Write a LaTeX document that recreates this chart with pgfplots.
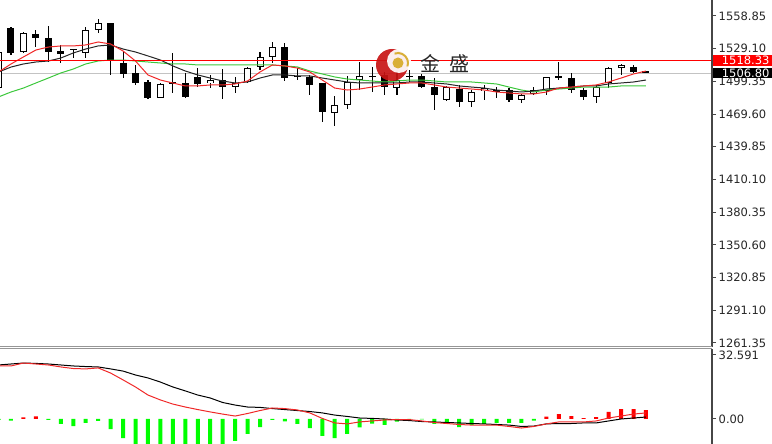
\documentclass[border=0pt]{standalone}
\usepackage{pgfplots}
\pgfplotsset{compat=1.18}
\usepackage{pgfplotstable}
\usepackage{fontspec}
\setmainfont{DejaVu Sans}
\newfontfamily\cjk{Noto Sans CJK SC}

\definecolor{maRed}{RGB}{240,40,40}
\definecolor{maGreen}{RGB}{60,200,60}
\definecolor{histGreen}{RGB}{0,255,0}
\definecolor{histRed}{RGB}{255,0,0}
\definecolor{axisGray}{RGB}{70,70,70}
\definecolor{sepGray}{RGB}{150,150,150}
\definecolor{bidGray}{RGB}{195,195,195}
\definecolor{logoRed}{RGB}{200,20,20}
\definecolor{logoGold}{RGB}{215,170,40}

\pgfplotstableread{
i O H L C
0 1493.3 1527.9 1491.0 1526.1
1 1547.9 1548.8 1523.4 1525.2
2 1526.1 1544.3 1525.2 1543.4
3 1542.5 1546.1 1530.6 1538.8
4 1538.8 1549.8 1517.0 1526.1
5 1527.0 1532.5 1516.1 1524.3
6 1528.0 1528.8 1520.6 1528.8
7 1525.2 1548.8 1520.6 1546.1
8 1546.1 1556.1 1543.4 1552.5
9 1552.5 1552.5 1505.2 1518.8
10 1516.1 1526.1 1502.4 1506.1
11 1507.0 1514.3 1496.1 1497.9
12 1498.8 1500.6 1483.3 1484.2
13 1484.2 1497.5 1483.8 1497.0
14 1498.3 1525.2 1488.8 1497.9
15 1497.9 1507.0 1484.2 1485.1
16 1503.4 1511.5 1494.2 1497.0
17 1497.9 1505.2 1493.3 1500.6
18 1500.6 1510.6 1483.3 1494.2
19 1494.2 1503.4 1488.8 1497.9
20 1498.8 1512.4 1497.9 1511.5
21 1512.4 1526.1 1509.7 1521.5
22 1521.5 1535.2 1516.1 1530.6
23 1530.6 1534.3 1499.7 1502.4
24 1504.3 1511.5 1500.6 1504.0
25 1503.4 1505.2 1487.0 1496.1
26 1497.9 1497.9 1462.4 1471.5
27 1470.6 1486.0 1458.7 1477.9
28 1477.9 1504.3 1474.2 1498.8
29 1500.6 1517.0 1491.5 1504.3
30 1503.4 1512.4 1489.7 1504.3
31 1505.2 1507.9 1487.0 1494.2
32 1493.3 1509.7 1487.0 1500.6
33 1504.0 1509.7 1498.8 1504.3
34 1504.3 1506.1 1493.3 1494.2
35 1494.2 1502.4 1473.3 1487.0
36 1482.4 1495.2 1481.5 1494.2
37 1492.4 1496.1 1476.0 1480.6
38 1480.6 1491.5 1476.0 1489.7
39 1490.6 1496.1 1482.4 1493.3
40 1490.6 1494.2 1484.2 1490.8
41 1491.5 1493.3 1480.6 1482.4
42 1482.4 1487.9 1479.7 1487.0
43 1487.9 1494.2 1487.0 1491.5
44 1490.6 1503.4 1487.0 1503.4
45 1503.6 1517.0 1500.6 1503.4
46 1502.4 1507.0 1488.8 1491.5
47 1491.5 1493.3 1482.4 1485.1
48 1485.1 1496.1 1479.7 1494.2
49 1497.9 1512.4 1493.3 1511.5
50 1511.5 1515.2 1505.2 1514.3
51 1512.4 1514.3 1507.0 1507.9
52 1508.5 1509.0 1506.8 1506.8
}\candles

\pgfplotstableread{
i fast mid slow
0 1507.9 1507.9 1485.2
1 1515.2 1512.4 1489.7
2 1521.6 1515.2 1493.3
3 1527.9 1517.0 1497.9
4 1530.6 1517.9 1502.4
5 1531.6 1520.6 1507.0
6 1531.6 1525.2 1510.6
7 1532.5 1528.8 1515.2
8 1535.2 1531.6 1517.9
9 1533.4 1532.5 1518.8
10 1527.0 1528.8 1518.8
11 1517.9 1526.1 1517.9
12 1505.2 1522.5 1517.0
13 1500.6 1518.8 1516.1
14 1497.9 1513.4 1515.2
15 1495.2 1508.8 1515.2
16 1495.2 1505.2 1514.3
17 1496.1 1502.4 1514.3
18 1496.1 1499.7 1514.3
19 1497.0 1497.9 1514.3
20 1499.7 1498.8 1514.3
21 1507.9 1502.4 1514.3
22 1514.3 1505.2 1514.3
23 1513.4 1505.2 1513.4
24 1511.5 1504.3 1512.5
25 1507.9 1504.3 1508.8
26 1500.6 1502.4 1506.1
27 1493.3 1500.6 1503.4
28 1491.5 1498.8 1501.5
29 1492.4 1497.9 1500.6
30 1494.2 1497.9 1499.7
31 1496.1 1497.9 1498.8
32 1497.0 1497.9 1499.7
33 1497.9 1498.8 1500.6
34 1497.9 1498.8 1500.6
35 1496.1 1497.9 1499.7
36 1494.2 1497.0 1498.8
37 1493.3 1495.2 1498.8
38 1492.4 1494.2 1498.8
39 1491.5 1493.3 1497.9
40 1489.7 1491.5 1497.0
41 1488.8 1490.6 1494.2
42 1487.9 1489.7 1491.5
43 1487.9 1490.6 1489.7
44 1489.7 1492.4 1491.5
45 1493.3 1493.3 1492.4
46 1494.2 1494.2 1493.3
47 1495.2 1495.2 1494.2
48 1496.1 1495.2 1494.2
49 1498.8 1497.0 1494.2
50 1502.4 1497.9 1495.2
51 1506.1 1498.8 1495.2
52 1508.8 1500.6 1495.2
}\mas

\pgfplotstableread{
i sig macd
0 27.5 27.0
1 28.0 27.0
2 28.5 28.5
3 28.3 28.0
4 28.0 27.5
5 27.5 26.5
6 27.0 25.7
7 26.7 25.5
8 26.5 26.0
9 25.5 23.4
10 24.4 19.9
11 22.4 16.3
12 20.9 12.2
13 18.8 9.7
14 16.3 7.6
15 14.3 6.1
16 12.2 4.8
17 10.7 3.6
18 8.4 2.5
19 7.1 1.5
20 6.1 2.8
21 5.9 4.3
22 5.3 5.6
23 4.8 5.3
24 4.3 4.6
25 3.8 3.1
26 3.1 0.3
27 2.0 -2.0
28 1.3 -2.5
29 0.5 -1.5
30 0.3 -1.0
31 0.0 -0.5
32 -0.5 -0.3
33 -0.8 -0.3
34 -1.3 -1.0
35 -1.5 -1.8
36 -1.8 -2.3
37 -2.0 -2.8
38 -2.3 -3.1
39 -2.5 -3.1
40 -2.8 -3.1
41 -3.1 -3.8
42 -3.8 -4.6
43 -3.6 -3.8
44 -2.5 -2.5
45 -2.3 -1.5
46 -2.3 -1.5
47 -2.0 -1.5
48 -2.0 -1.0
49 -1.0 0.5
50 0.0 1.5
51 0.5 2.5
52 1.0 3.1
}\macdlines

\begin{document}
\begin{tikzpicture}
\useasboundingbox (0,0) rectangle (772pt,444pt);
\pgfplotsset{
  panel/.style={
    scale only axis, width=712pt,
    xmin=0.1165, xmax=57.305,
    axis line style={draw=none},
    xtick=\empty,
    ytick pos=right, yticklabel pos=right,
    tick align=outside, major tick length=4pt,
    tick style={draw=axisGray, line width=1pt},
    yticklabel style={font=\fontsize{11.5}{13}\selectfont, text=black!85, inner xsep=2.5pt},
    clip mode=individual,
  }
}
% ---------------- main price panel ----------------
\begin{axis}[panel, at={(0pt,444pt)}, anchor=north west, height=347pt,
  ymin=1257.68, ymax=1573.41,
  ytick={1261.35,1291.1,1320.85,1350.6,1380.35,1410.1,1439.85,1469.6,1499.35,1529.1,1558.85},
  yticklabels={1261.35,1291.10,1320.85,1350.60,1380.35,1410.10,1439.85,1469.60,1499.35,1529.10,1558.85}]
  \addplot[bidGray, line width=1.4pt, forget plot] coordinates {(0.1165,1506.80) (57.305,1506.80)};
  \addplot[forget plot, draw=none, mark=none,
    error bars/.cd, y dir=both, y explicit, error mark=none,
    error bar style={draw=black, line width=1.1pt, solid}]
    table[x=i, y expr={(\thisrow{H}+\thisrow{L})/2}, y error expr={(\thisrow{H}-\thisrow{L})/2}] {\candles};
  \addplot[forget plot, draw=none, mark=none,
    error bars/.cd, y dir=both, y explicit, error mark=none,
    error bar style={draw=black, line width=7pt, solid}]
    table[x=i, y expr={(\thisrow{O}+\thisrow{C})/2}, y error expr={max(abs(\thisrow{C}-\thisrow{O}),1)/2}] {\candles};
  \addplot[forget plot, draw=none, mark=none,
    error bars/.cd, y dir=both, y explicit, error mark=none,
    error bar style={draw=white, line width=5pt, solid}]
    table[x=i, y expr={(\thisrow{O}+\thisrow{C})/2}, y error expr={max(\thisrow{C}-\thisrow{O}-2,0)/2}] {\candles};
  \addplot[maGreen, line width=1pt] table[x=i, y=slow] {\mas};
  \addplot[black!85, line width=1pt] table[x=i, y=mid] {\mas};
  \addplot[maRed, line width=1pt] table[x=i, y=fast] {\mas};
  \addplot[red, line width=1.8pt, forget plot] coordinates {(0.1165,1518.33) (57.305,1518.33)};
  \draw[axisGray, line width=1.3pt] (rel axis cs:1,0) -- (rel axis cs:1,1);
  \coordinate (pR) at (axis cs:57.305,1518.33);
  \coordinate (pB) at (axis cs:57.305,1506.80);
\end{axis}
% ---------------- MACD panel ----------------
\begin{axis}[panel, at={(0pt,95pt)}, anchor=north west, height=95pt,
  ymin=-12.73, ymax=35.64,
  ytick={0,32.591}, yticklabels={0.00,32.591}]
  \addplot[ybar, bar width=4pt, bar shift=0pt, fill=histGreen, draw=none, forget plot] coordinates {
    (0,-0.5)(1,-0.8)(4,-0.5)(5,-2.5)(6,-3.6)(7,-2.0)(8,-1.0)(9,-5.1)(10,-9.7)
    (11,-13)(12,-13)(13,-13)(14,-13)(15,-13)(16,-13)(17,-13)(18,-13)(19,-11.2)
    (20,-7.6)(21,-4.1)(22,-0.4)(23,-1.2)(24,-2.5)(25,-4.6)(26,-8.6)(27,-9.7)
    (28,-7.6)(29,-4.3)(30,-2.3)(31,-3.0)(32,-1.3)(33,-0.2)(34,-0.2)(35,-2.5)
    (36,-2.5)(37,-4.1)(38,-3.0)(39,-2.5)(40,-2.0)(41,-2.0)(42,-2.0)(43,-0.8)};
  \addplot[ybar, bar width=4pt, bar shift=0pt, fill=histRed, draw=none, forget plot] coordinates {
    (2,0.8)(3,1.3)(44,1.2)(45,2.5)(46,1.5)(47,0.5)(48,1.0)(49,3.6)(50,5.0)(51,5.0)(52,4.5)};
  \addplot[black, line width=1pt] table[x=i, y=sig] {\macdlines};
  \addplot[maRed, line width=1pt] table[x=i, y=macd] {\macdlines};
  \draw[axisGray, line width=1.3pt] (rel axis cs:1,0) -- (rel axis cs:1,1);
\end{axis}
\draw[sepGray, line width=1pt] (0pt,97pt) -- (712pt,97pt);
\draw[sepGray, line width=1pt] (0pt,95pt) -- (712pt,95pt);
\node[anchor=west, fill=red, text=white, inner ysep=0pt, inner xsep=0pt, minimum height=10.5pt,
  font=\fontsize{11.5}{12}\selectfont] at ([xshift=0.7pt]pR) {\hspace*{9pt}1518.33\hspace*{20pt}};
\node[anchor=west, fill=black, text=white, inner ysep=0pt, inner xsep=0pt, minimum height=10.5pt,
  font=\fontsize{11.5}{12}\selectfont] at ([xshift=0.7pt]pB) {\hspace*{9pt}1506.80\hspace*{20pt}};
\begin{scope}[opacity=0.92]
  \fill[logoRed] (392pt,379pt) circle (16pt);
  \fill[white] (399pt,383pt) circle (12pt);
  \fill[logoGold] (398pt,381pt) circle (5.5pt);
  \draw[logoGold, line width=2pt] (398pt,381pt) ++(110:10pt) arc (110:-20:10pt);
\end{scope}
\node[font=\cjk\fontsize{20}{20}\selectfont, text=black!85] at (445pt,380pt) {金\hspace{9pt}盛};
\end{tikzpicture}
\end{document}
